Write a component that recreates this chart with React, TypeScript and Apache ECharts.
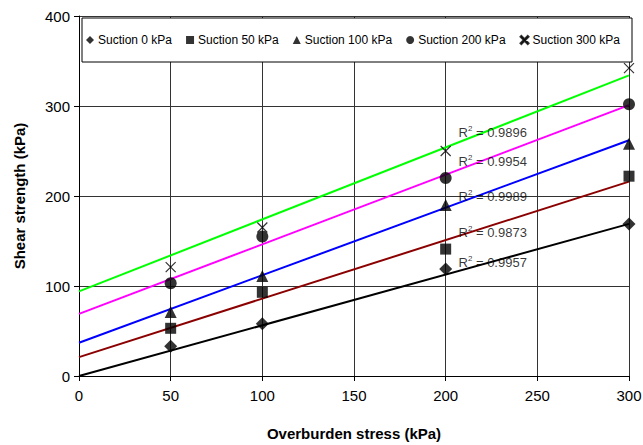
import React, { useEffect, useRef } from "react";
import * as echarts from "echarts";

const xTicks = [0, 50, 100, 150, 200, 250, 300];
const seriesNames = ["Suction 0 kPa", "Suction 50 kPa", "Suction 100 kPa", "Suction 200 kPa", "Suction 300 kPa"];
const stressX = [50, 100, 200, 300];
const suction0 = [33, 58, 119, 169];
const suction50 = [53, 93, 141, 222];
const suction100 = [71, 111, 190, 258];
const suction200 = [103, 155, 220, 302];
const suction300 = [121, 165, 250, 342];
// trend line values at x = 0 and x = 300
const trendStart = [0, 21, 37, 69, 94];
const trendEnd = [169, 216, 262, 301, 334];
const trendColors = ["#000000", "#8B0000", "#0000FF", "#FF00FF", "#00FF00"];
const r2Values = ["0.9957", "0.9873", "0.9989", "0.9954", "0.9896"];
const r2LabelX = [207, 207, 207, 207, 207];
const r2LabelY = [126, 160, 200, 238, 271];

const FONT = "Arial, 'Liberation Sans', Helvetica, sans-serif";
const XPATH = "path://M0,0L10,10M10,0L0,10";
const symbols = ["diamond", "rect", "triangle", "circle", XPATH];
const symbolSizes = [13, 11, 12, 12, 10];
const legendIcons = ["diamond", "rect", "triangle", "circle", "path://M1,0L10,9L9,10L0,1ZM9,0L10,1L1,10L0,9Z"];

export default function App() {
  const ref = useRef<HTMLDivElement>(null);
  useEffect(() => {
    if (!ref.current) return;
    const chart = echarts.init(ref.current, null, { renderer: "svg" });
    const values = [suction0, suction50, suction100, suction200, suction300];
    const scatterSeries = values.map((vals, i) => ({
      name: seriesNames[i],
      type: "scatter",
      symbol: symbols[i],
      symbolSize: symbolSizes[i],
      z: 5,
      itemStyle: i === 4
        ? { color: "#000", borderColor: "#000", borderWidth: 1.2 }
        : { color: "#000" },
      data: vals.map((v, j) => [stressX[j], v]),
    }));
    const lineSeries = trendStart.map((s, i) => ({
      name: "trend" + i,
      type: "line",
      showSymbol: false,
      symbol: "none",
      z: 3,
      lineStyle: { color: trendColors[i], width: 2 },
      data: [[0, s], [300, trendEnd[i]]],
    }));
    const labelSeries = {
      name: "r2",
      type: "scatter",
      symbolSize: 0,
      z: 6,
      data: r2Values.map((v, i) => ({ value: [r2LabelX[i], r2LabelY[i]], r2: v })),
      label: {
        show: true,
        position: "inside",
        align: "left",
        verticalAlign: "middle",
        formatter: (p: any) => "{r|R}{s|2}{r| = " + p.data.r2 + "}",
        rich: {
          r: { fontSize: 13, fontFamily: FONT, color: "#000", lineHeight: 16 },
          s: { fontSize: 8, fontFamily: FONT, color: "#000", verticalAlign: "top", lineHeight: 16 },
        },
      },
    };
    chart.setOption({
      animation: false,
      backgroundColor: "#fff",
      textStyle: { fontFamily: FONT },
      grid: { left: 79, right: 14, top: 16, bottom: 69, outerBoundsMode: "none" },
      graphic: [
        {
          type: "rect",
          z: 8,
          shape: { x: 82, y: 18, width: 550, height: 44 },
          style: { fill: "#fff", stroke: "#000", lineWidth: 1 },
        },
      ],
      legend: {
        z: 10,
        left: 86,
        top: 34,
        width: 560,
        itemGap: 14,
        itemWidth: 8,
        itemHeight: 8,
        padding: 0,
        textStyle: { fontSize: 12, fontFamily: FONT, color: "#000", padding: [0, 0, 0, -1] },
        data: seriesNames.map((n, i) => ({ name: n, icon: legendIcons[i] })),
      },
      xAxis: {
        type: "value",
        min: xTicks[0],
        max: xTicks[xTicks.length - 1],
        interval: 50,
        name: "Overburden stress (kPa)",
        nameLocation: "middle",
        nameGap: 50,
        nameTextStyle: { fontSize: 15, fontWeight: "bold", fontFamily: FONT, color: "#000" },
        axisLine: { show: true, lineStyle: { color: "#000", width: 1 } },
        axisTick: { show: true, length: 5, lineStyle: { color: "#000" } },
        axisLabel: { fontSize: 15, color: "#000", fontFamily: FONT, margin: 12 },
        splitLine: { show: true, lineStyle: { color: "#333", width: 1 } },
      },
      yAxis: {
        type: "value",
        min: 0,
        max: 400,
        interval: 100,
        name: "Shear strength (kPa)",
        nameLocation: "middle",
        nameGap: 52,
        nameTextStyle: { fontSize: 15, fontWeight: "bold", fontFamily: FONT, color: "#000" },
        axisLine: { show: true, lineStyle: { color: "#000", width: 1 } },
        axisTick: { show: true, length: 5, lineStyle: { color: "#000" } },
        axisLabel: { fontSize: 15, color: "#000", fontFamily: FONT, margin: 9 },
        splitLine: { show: true, lineStyle: { color: "#333", width: 1 } },
      },
      series: [...lineSeries, ...scatterSeries, labelSeries],
    });
    return () => chart.dispose();
  }, []);
  return <div ref={ref} style={{ width: 643, height: 445, position: "absolute", left: 0, top: 0 }} />;
}
